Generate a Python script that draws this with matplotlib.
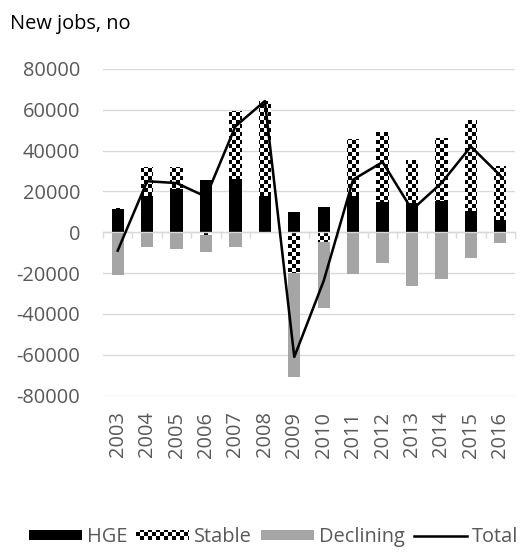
import warnings
import numpy as np
import matplotlib
matplotlib.use("Agg")
import matplotlib.pyplot as plt
import matplotlib.hatch as mhatch
from matplotlib.path import Path

warnings.filterwarnings("ignore", category=matplotlib.MatplotlibDeprecationWarning)

# ---- data -------------------------------------------------------------
years = ["2003", "2004", "2005", "2006", "2007", "2008", "2009",
         "2010", "2011", "2012", "2013", "2014", "2015", "2016"]
hge = [11200, 18000, 21100, 25600, 26100, 18000, 9800,
       12200, 18000, 14700, 14200, 15500, 10400, 6100]
stable = [700, 14000, 10900, -1200, 33500, 46300, -20200,
          -4800, 27900, 34200, 21000, 30800, 44600, 26300]
declining = [-21000, -7300, -8400, -8500, -7300, 0, -50700,
             -32200, -20500, -14900, -26100, -23000, -12700, -5100]
total = [-9000, 25000, 24100, 17400, 51900, 64300, -61100,
         -23800, 25800, 34400, 11000, 24100, 42000, 27800]
y_ticks = list(range(-80000, 80001, 20000))


# ---- checkerboard fill pattern (hatch symbol "c") ----------------------
class CheckerHatch(mhatch.HatchPatternBase):
    cells = 24

    def __init__(self, hatch, density):
        n = self.cells if "c" in hatch else 0
        self.squares = [(i, j) for i in range(n) for j in range(n) if (i + j) % 2 == 0]
        self.num_vertices = 5 * len(self.squares)

    def set_vertices_and_codes(self, vertices, codes):
        s = 1.0 / self.cells
        unit = np.array([[0, 0], [1, 0], [1, 1], [0, 1], [0, 0]], float) * s
        vertices[:] = np.concatenate([unit + (i * s, j * s) for i, j in self.squares])
        codes[:] = np.tile([Path.MOVETO, Path.LINETO, Path.LINETO,
                            Path.LINETO, Path.CLOSEPOLY], len(self.squares))


mhatch._hatch_types.append(CheckerHatch)

plt.rcParams["font.family"] = ["Open Sans", "DejaVu Sans"]
plt.rcParams["axes.unicode_minus"] = False
plt.rcParams["hatch.linewidth"] = 0.0

W, H, DPI = 526, 552, 96
fig = plt.figure(figsize=(W / DPI, H / DPI), dpi=DPI)
ax = fig.add_axes([103 / W, 1 - 395.5 / H, (515 - 103) / W, (395.5 - 69) / H])

x = np.arange(len(years))
width = 0.42
grey_text = "#595959"
grid_col = "#d9d9d9"

# stack positives upward and negatives downward, in series order
pos_base = np.zeros(len(years))
neg_base = np.zeros(len(years))
series = [
    ("HGE", hge, dict(color="black")),
    ("Stable", stable, dict(facecolor="white", edgecolor="black", hatch="c", linewidth=0)),
    ("Declining", declining, dict(color="#a5a5a5")),
]
handles = []
for name, vals, style in series:
    v = np.asarray(vals, float)
    bottom = np.where(v >= 0, pos_base, neg_base)
    bars = ax.bar(x, v, width, bottom=bottom, label=name, zorder=1, **style)
    handles.append(bars)
    pos_base = pos_base + np.where(v > 0, v, 0)
    neg_base = neg_base + np.where(v < 0, v, 0)

line, = ax.plot(x, total, color="black", linewidth=1.9, solid_joinstyle="round",
                label="Total", zorder=3)
handles.append(line)

ax.set_xlim(-0.5, len(years) - 0.5)
ax.set_ylim(-80000, 80000)
ax.set_yticks(y_ticks)
ax.set_yticklabels([str(t) for t in y_ticks])
ax.set_xticks(x)
ax.set_xticklabels(years, rotation=90)
ax.tick_params(axis="y", length=0, pad=17, labelsize=15, labelcolor=grey_text)
ax.tick_params(axis="x", length=0, pad=12, labelsize=15, labelcolor=grey_text)
for sp in ax.spines.values():
    sp.set_visible(False)
ax.grid(axis="y", color=grid_col, linewidth=1.0, zorder=0)
ax.set_axisbelow(True)

# category axis running along zero, with boundary tick marks
zero_ax = ax.secondary_xaxis(0, transform=ax.transData)
zero_ax.set_zorder(2)
zero_ax.set_xticks(np.arange(len(years) + 1) - 0.5)
zero_ax.set_xticklabels([])
zero_ax.tick_params(axis="x", direction="out", length=4.5, width=1.0, color=grid_col)
zero_ax.spines["bottom"].set_color(grid_col)
zero_ax.spines["bottom"].set_linewidth(1.0)

fig.text(10 / W, 1 - 29 / H, "New jobs, no", fontsize=15, color="black",
         ha="left", va="baseline")

fig.legend(handles=handles, labels=["HGE", "Stable", "Declining", "Total"],
           loc="center", bbox_to_anchor=(273.5 / W, 1 - 537 / H), ncol=4,
           frameon=False, fontsize=15, labelcolor=grey_text,
           handlelength=2.65, handleheight=0.45, handletextpad=0.25,
           columnspacing=0.45, borderpad=0, borderaxespad=0)

fig.savefig("out.png", dpi=DPI)
